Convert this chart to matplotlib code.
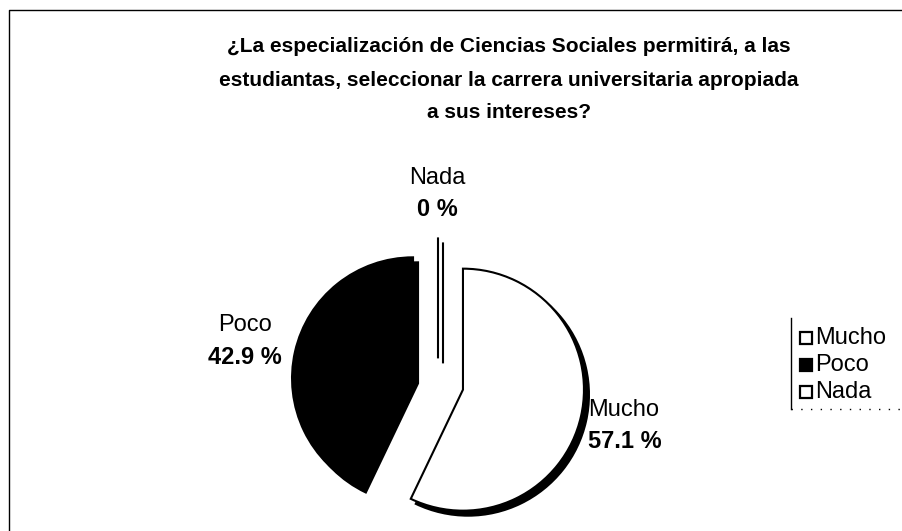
import matplotlib.pyplot as plt
from matplotlib.patches import Rectangle

W, H = 902, 531

categories = ['Mucho', 'Poco', 'Nada']
values = [57.1, 42.9, 0.0]
pct_labels = ['57.1 %', '42.9 %', '0 %']
colors = ['white', 'black', 'white']
title_lines = ['¿La especialización de Ciencias Sociales permitirá, a las',
               'estudiantas, seleccionar la carrera universitaria apropiada',
               'a sus intereses?']

plt.rcParams['font.family'] = ['Liberation Sans', 'DejaVu Sans']

fig = plt.figure(figsize=(W / 100, H / 100), dpi=100)
ax = fig.add_axes([0, 0, 1, 1])
ax.axis('off')

Y = lambda y: H - y  # pixel rows counted from the top

# pie (centre and radius in pixels, explode is in the same units)
ax.pie(values, colors=colors, startangle=90, counterclock=False,
       explode=[25.6] * 3, center=(438, Y(384)), radius=121,
       wedgeprops=dict(edgecolor='black', linewidth=1.5),
       shadow=dict(ox=3.6, oy=-3.6, shade=1.0, alpha=1.0))
ax.set_xlim(0, W)
ax.set_ylim(0, H)
ax.set_aspect('auto')

# chart frame: only the left and top edges are inside the picture
ax.plot([9, 9, W + 20], [-20, Y(10), Y(10)], color='black', lw=1, clip_on=False)

for i, line in enumerate(title_lines):
    ax.text(509, Y(47 + 33 * i), line, ha='center', va='center',
            fontsize=15, fontweight='bold')

# data labels: x, y of the name, alignment
label_pos = {'Mucho': (588, 410, 'left'), 'Poco': (245, 325, 'center'), 'Nada': (437, 178, 'center')}
for cat, pct in zip(categories, pct_labels):
    x, y, ha = label_pos[cat]
    ax.text(x, Y(y), cat, ha=ha, va='center', fontsize=17)
    ax.text(x, Y(y + 32), pct, ha=ha, va='center', fontsize=17, fontweight='bold')

# legend (right part cut off by the picture edge)
ax.plot([791, 791], [Y(318), Y(409)], color='black', lw=1)
ax.plot([791, W], [Y(409), Y(409)], color='black', lw=1, ls=(0, (1, 6)))
for i, (cat, col) in enumerate(zip(categories, colors)):
    yy = 338 + 27 * i
    ax.add_patch(Rectangle((800, Y(yy + 6)), 12, 12, fc=col, ec='black', lw=1.6))
    ax.text(815, Y(yy), cat, ha='left', va='center', fontsize=17)

fig.savefig('out.png', dpi=100)
